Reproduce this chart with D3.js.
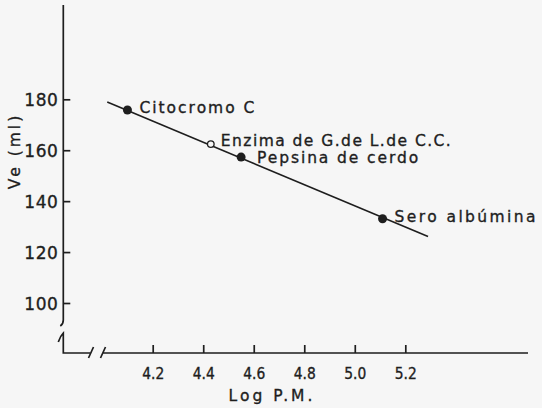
<!DOCTYPE html>
<html><head><meta charset="utf-8">
<script src="https://cdn.jsdelivr.net/npm/d3@7"></script>
<style>
html,body{margin:0;padding:0;background:#f6f6f6;}
svg{display:block;}
text{font-family:"DejaVu Sans",sans-serif;fill:#1e1e1e;stroke:#1e1e1e;stroke-width:0.35px;}
</style></head>
<body>
<script>
// Data
const proteins = ["Citocromo C", "Enzima de G.de L.de C.C.", "Pepsina de cerdo", "Sero albúmina"];
const logPM = [4.10, 4.43, 4.55, 5.11];
const ve = [175.8, 162.4, 157.3, 133.1];
const filled = [true, false, true, true];
const fitLogPM = [4.02, 5.29];
const fitVe = [178.9, 126.1];
const xTicks = [4.2, 4.4, 4.6, 4.8, 5.0, 5.2];
const xTickLabels = ["4.2", "4.4", "4.6", "4.8", "5.0", "5.2"];
const yTicks = [100, 120, 140, 160, 180];
const xTitle = "Log P.M.";
const yTitle = "Ve (ml)";

// Layout (label offsets in px, label widths)
const labelDx = [12, 10, 16, 12];
const labelDy = [3, 2, 6, 3];
const labelLen = [115, 230, 161, 141];

const W = 542, H = 408;
const svg = d3.select("body").append("svg").attr("width", W).attr("height", H);
const ink = "#1e1e1e";

const x = d3.scaleLinear().domain([4.2, 5.2]).range([152.7, 405.3]);
const y = d3.scaleLinear().domain([100, 180]).range([303, 99.3]);
const axX = 63.3, axY = 353;

// Axis lines with breaks
const g = svg.append("g").attr("fill", "none").attr("stroke", ink).attr("stroke-width", 1.7);
g.append("path").attr("d", `M${axX},5 L${axX},320 Q${axX},324 ${axX-3},326`);
g.append("path").attr("d", `M${axX-5},342 Q${axX-3},336 ${axX},333 L${axX},${axY} L90,${axY}`);
g.append("path").attr("d", `M88.5,358 L93.5,347`);
g.append("path").attr("d", `M100.5,358 L105.5,347 M103,${axY} L528,${axY}`);

// Y axis ticks
const yAxis = d3.axisLeft(y).tickValues(yTicks).tickSizeInner(-7).tickSizeOuter(0).tickPadding(5).tickFormat(d3.format("d"));
const ya = svg.append("g").attr("transform", `translate(${axX},0)`).call(yAxis);
ya.select(".domain").remove();
ya.selectAll(".tick line").attr("stroke", ink).attr("stroke-width", 1.7);
ya.selectAll(".tick text").attr("font-size", 17).attr("letter-spacing", "0.5px").attr("fill", ink)
  .attr("font-family", "DejaVu Sans").attr("dy", "0.36em").attr("x", -5);

// X axis ticks
const xAxis = d3.axisBottom(x).tickValues(xTicks).tickSizeInner(-8).tickSizeOuter(0).tickPadding(13)
  .tickFormat((d, i) => xTickLabels[i]);
const xa = svg.append("g").attr("transform", `translate(0,${axY})`).call(xAxis);
xa.select(".domain").remove();
xa.selectAll(".tick line").attr("stroke", ink).attr("stroke-width", 1.7);
xa.selectAll(".tick text").attr("font-size", 15).attr("fill", ink).attr("font-family", "DejaVu Sans")
  .attr("dy", null).attr("y", 25.5).attr("textLength", 22).attr("lengthAdjust", "spacingAndGlyphs");

// Titles
svg.append("text").attr("x", 272).attr("y", 401).attr("text-anchor", "middle")
  .attr("font-size", 15.5).attr("letter-spacing", "3px").text(xTitle);
svg.append("text").attr("transform", "translate(20,151) rotate(-90)").attr("text-anchor", "middle")
  .attr("font-size", 15.5).attr("letter-spacing", "3px").text(yTitle);

// Fit line
const line = d3.line().x(d => x(d[0])).y(d => y(d[1]));
svg.append("path").datum(d3.zip(fitLogPM, fitVe)).attr("d", line)
  .attr("fill", "none").attr("stroke", ink).attr("stroke-width", 1.6);

// Points
const pts = proteins.map((p, i) => ({p, lx: logPM[i], v: ve[i], f: filled[i], i}));
svg.selectAll("circle.pt").data(pts).enter().append("circle").attr("class", "pt")
  .attr("cx", d => x(d.lx)).attr("cy", d => y(d.v))
  .attr("r", d => d.f ? 4.5 : 3.3)
  .attr("fill", d => d.f ? ink : "#f6f6f6")
  .attr("stroke", ink).attr("stroke-width", d => d.f ? 0 : 1.3);

// Labels
svg.selectAll("text.lbl").data(pts).enter().append("text").attr("class", "lbl")
  .attr("x", d => x(d.lx) + labelDx[d.i]).attr("y", d => y(d.v) + labelDy[d.i])
  .attr("font-size", 15.5).attr("textLength", d => labelLen[d.i]).attr("lengthAdjust", "spacing")
  .text(d => d.p);
</script>
</body></html>
